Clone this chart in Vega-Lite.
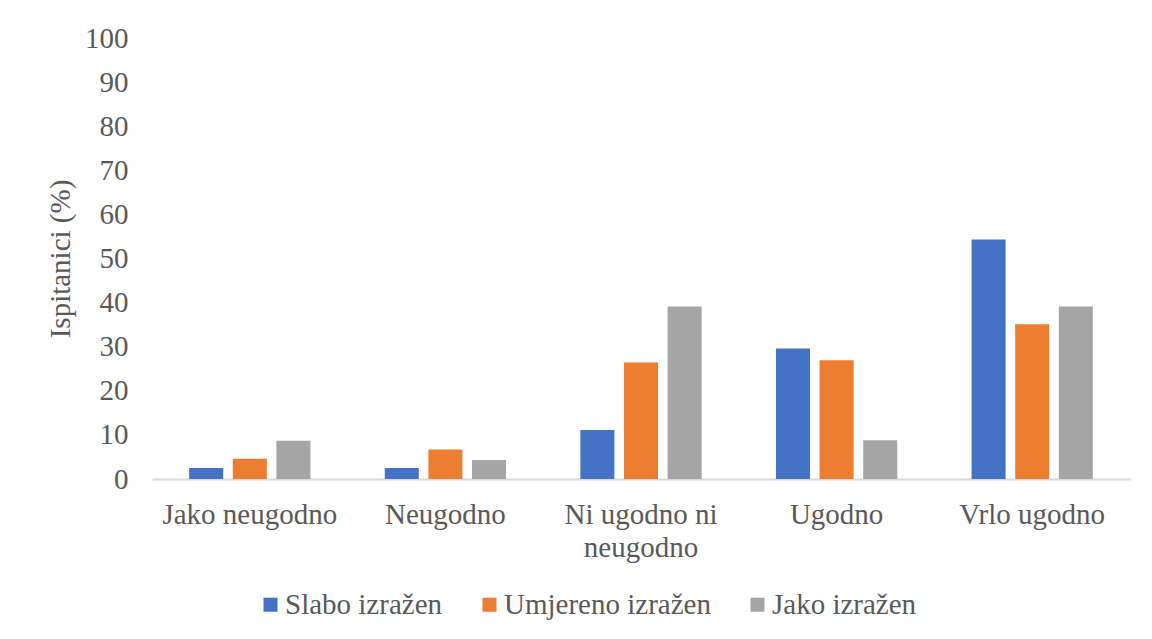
{
  "$schema": "https://vega.github.io/schema/vega-lite/v6.json",
  "width": 978,
  "height": 441,
  "autosize": {"type": "none"},
  "padding": {"left": 152, "top": 38, "right": 22, "bottom": 160},
  "background": "white",
  "config": {
    "view": {"stroke": null},
    "font": "Liberation Serif",
    "axis": {"labelFont": "Liberation Serif", "titleFont": "Liberation Serif"},
    "legend": {"labelFont": "Liberation Serif"}
  },
  "data": {
    "values": [
      {"kategorija": "Jako neugodno", "izrazenost": "Slabo izražen", "postotak": 2.5},
      {"kategorija": "Jako neugodno", "izrazenost": "Umjereno izražen", "postotak": 4.6},
      {"kategorija": "Jako neugodno", "izrazenost": "Jako izražen", "postotak": 8.7},
      {"kategorija": "Neugodno", "izrazenost": "Slabo izražen", "postotak": 2.5},
      {"kategorija": "Neugodno", "izrazenost": "Umjereno izražen", "postotak": 6.7},
      {"kategorija": "Neugodno", "izrazenost": "Jako izražen", "postotak": 4.3},
      {"kategorija": "Ni ugodno ni neugodno", "izrazenost": "Slabo izražen", "postotak": 11.1},
      {"kategorija": "Ni ugodno ni neugodno", "izrazenost": "Umjereno izražen", "postotak": 26.4},
      {"kategorija": "Ni ugodno ni neugodno", "izrazenost": "Jako izražen", "postotak": 39.1},
      {"kategorija": "Ugodno", "izrazenost": "Slabo izražen", "postotak": 29.6},
      {"kategorija": "Ugodno", "izrazenost": "Umjereno izražen", "postotak": 26.9},
      {"kategorija": "Ugodno", "izrazenost": "Jako izražen", "postotak": 8.8},
      {"kategorija": "Vrlo ugodno", "izrazenost": "Slabo izražen", "postotak": 54.3},
      {"kategorija": "Vrlo ugodno", "izrazenost": "Umjereno izražen", "postotak": 35.1},
      {"kategorija": "Vrlo ugodno", "izrazenost": "Jako izražen", "postotak": 39.1}
    ]
  },
  "mark": {"type": "bar"},
  "encoding": {
    "x": {
      "field": "kategorija",
      "type": "nominal",
      "sort": ["Jako neugodno", "Neugodno", "Ni ugodno ni neugodno", "Ugodno", "Vrlo ugodno"],
      "scale": {"paddingInner": 0.38, "paddingOuter": 0.19},
      "axis": {
        "title": null,
        "labelAngle": 0,
        "labelFont": "Liberation Serif",
        "labelFontSize": 29,
        "labelColor": "#595959",
        "labelPadding": 21,
        "labelLineHeight": 33,
        "labelLimit": 0,
        "labelExpr": "datum.label == 'Ni ugodno ni neugodno' ? ['Ni ugodno ni', 'neugodno'] : datum.label",
        "ticks": false,
        "domainColor": "#D9D9D9",
        "domainWidth": 2,
        "grid": false
      }
    },
    "xOffset": {
      "field": "izrazenost",
      "type": "nominal",
      "sort": ["Slabo izražen", "Umjereno izražen", "Jako izražen"],
      "scale": {"paddingInner": 0.22, "paddingOuter": 0}
    },
    "y": {
      "field": "postotak",
      "type": "quantitative",
      "scale": {"domain": [0, 100], "nice": false},
      "axis": {
        "title": "Ispitanici (%)",
        "titleFont": "Liberation Serif",
        "titleFontSize": 29,
        "titleFontWeight": "normal",
        "titleColor": "#595959",
        "titlePadding": 9,
        "values": [0, 10, 20, 30, 40, 50, 60, 70, 80, 90, 100],
        "labelFont": "Liberation Serif",
        "labelFontSize": 29,
        "labelColor": "#595959",
        "labelPadding": 24,
        "ticks": false,
        "domain": false,
        "grid": false
      }
    },
    "color": {
      "field": "izrazenost",
      "type": "nominal",
      "sort": ["Slabo izražen", "Umjereno izražen", "Jako izražen"],
      "scale": {
        "domain": ["Slabo izražen", "Umjereno izražen", "Jako izražen"],
        "range": ["#4472C4", "#ED7D31", "#A5A5A5"]
      },
      "legend": {
        "title": null,
        "orient": "none",
        "legendX": 104,
        "legendY": 552,
        "direction": "horizontal",
        "columns": 3,
        "symbolType": "square",
        "symbolSize": 196,
        "symbolStrokeWidth": 0,
        "labelFont": "Liberation Serif",
        "labelFontSize": 29,
        "labelColor": "#595959",
        "labelOffset": 0,
        "labelLimit": 0,
        "columnPadding": 32
      }
    }
  }
}
